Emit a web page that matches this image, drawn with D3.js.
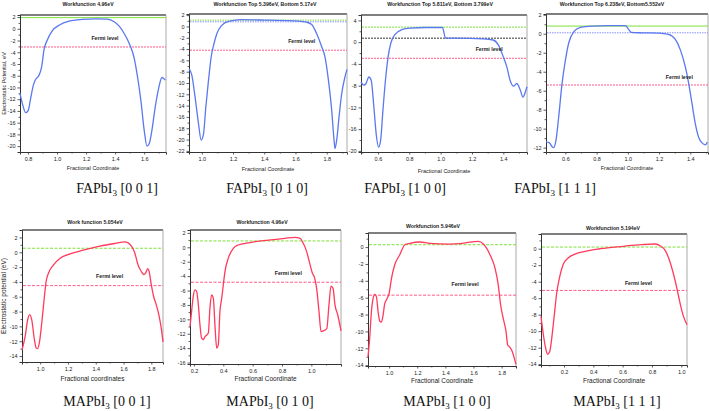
<!DOCTYPE html>
<html><head><meta charset="utf-8">
<script src="https://cdn.jsdelivr.net/npm/d3@7"></script>
<style>body{margin:0;background:#fff}svg{display:block}</style>
</head><body>
<script>
// ---------- DATA ----------
const fa001X = [0.745,0.761,0.784,0.802,0.818,0.837,0.853,0.876,0.894,0.910,0.933,0.968,1.014,1.083,1.175,1.267,1.347,1.393,1.428,1.462,1.497,1.531,1.554,1.577,1.600,1.619,1.634,1.653,1.676,1.699,1.722,1.745];
const fa001Y = [-11.0,-12.7,-14.3,-13.9,-11.9,-9.6,-8.6,-7.9,-6.5,-3.6,-1.9,-0.3,0.6,1.3,1.6,1.7,1.65,1.2,0.45,-0.8,-2.5,-5.0,-8.2,-12.2,-17.3,-20.0,-19.6,-17.3,-13.3,-10.2,-8.3,-8.75];
const fa001Lines = [1.9, -3.1];

const fa010X = [0.919,0.936,0.957,0.979,0.996,1.011,1.026,1.043,1.060,1.075,1.096,1.128,1.171,1.256,1.427,1.597,1.672,1.704,1.736,1.768,1.789,1.811,1.832,1.847,1.853,1.864,1.879,1.896,1.917,1.930];
const fa010Y = [-7.5,-8.6,-12.5,-17.2,-20.1,-19.0,-14.2,-9.5,-5.4,-3.4,-1.3,0.2,0.9,1.2,1.1,1.0,0.75,0.35,-1.3,-3.6,-5.4,-9.5,-14.8,-20.1,-21.6,-20.1,-16.0,-11.9,-8.9,-7.6];
const fa010Lines = [1.12, 0.82, -4.2];

const fa100X = [0.492,0.509,0.524,0.542,0.557,0.574,0.589,0.604,0.617,0.632,0.648,0.665,0.682,0.708,0.751,0.805,0.903,1.000,1.011,1.032,1.097,1.270,1.335,1.368,1.400,1.422,1.443,1.465,1.486,1.508,1.525,1.541,1.551];
const fa100Y = [-7.3,-7.9,-7.6,-6.4,-7.0,-11.9,-16.9,-19.3,-18.1,-12.5,-7.0,-2.7,-0.2,1.4,2.3,2.6,2.7,2.7,2.7,0.74,0.74,0.6,0.4,-0.5,-2.7,-4.5,-7.0,-8.1,-7.6,-8.8,-10.1,-9.1,-8.2];
const fa100Lines = [2.77, 0.74, -2.96];

const fa111X = [0.476,0.498,0.515,0.525,0.540,0.557,0.579,0.600,0.621,0.653,0.696,0.771,0.877,0.984,1.005,1.022,1.090,1.197,1.261,1.304,1.336,1.368,1.389,1.411,1.432,1.453,1.475,1.496,1.509];
const fa111Y = [-11.4,-11.5,-11.9,-12.0,-11.2,-8.8,-5.2,-2.8,-1.0,0.2,0.67,0.81,0.85,0.85,0.46,0.14,0.1,0.07,-0.07,-0.6,-1.7,-3.5,-5.2,-7.4,-9.5,-10.9,-11.5,-11.7,-11.4];
const fa111Lines = [0.81, 0.1, -5.4];

const ma001X = [0.869,0.893,0.909,0.924,0.940,0.957,0.971,0.981,0.995,1.012,1.029,1.043,1.060,1.096,1.143,1.215,1.310,1.430,1.549,1.609,1.633,1.657,1.681,1.704,1.728,1.745,1.759,1.774,1.783,1.800,1.817,1.836,1.855,1.872,1.884];
const ma001Y = [-13.2,-11.2,-9.2,-8.4,-9.2,-11.6,-12.9,-13.0,-12.1,-9.4,-6.2,-3.9,-2.8,-1.7,-0.8,-0.23,0.27,0.82,1.22,1.4,1.27,0.82,-0.09,-1.68,-2.6,-3.0,-2.8,-2.2,-2.5,-4.4,-6.0,-7.1,-8.5,-10.3,-12.1];
const ma001Lines = [0.54, -4.5];

const ma010X = [0.173,0.184,0.195,0.207,0.218,0.230,0.241,0.252,0.264,0.275,0.286,0.298,0.309,0.320,0.332,0.343,0.355,0.366,0.377,0.389,0.400,0.411,0.434,0.468,0.502,0.593,0.707,0.820,0.889,0.923,0.945,0.968,0.991,1.007,1.020,1.036,1.052,1.066,1.082,1.105,1.120,1.134,1.148,1.161,1.180,1.202];
const ma010Y = [-11.0,-8.9,-6.8,-5.9,-6.1,-8.0,-10.8,-12.6,-12.8,-12.4,-12.2,-11.9,-8.4,-6.6,-7.1,-10.8,-14.0,-13.5,-8.9,-7.1,-5.2,-3.4,-1.5,-0.14,0.32,0.69,1.0,1.25,1.38,1.25,0.55,-0.6,-2.4,-3.6,-4.1,-5.7,-8.9,-11.7,-11.6,-11.3,-8.0,-5.4,-5.7,-8.0,-9.4,-11.6];
const ma010Lines = [0.88, -4.85];

const ma100X = [0.850,0.862,0.874,0.886,0.898,0.910,0.922,0.934,0.945,0.957,0.969,0.986,1.000,1.017,1.040,1.076,1.112,1.147,1.218,1.290,1.432,1.503,1.575,1.634,1.670,1.717,1.753,1.776,1.793,1.812,1.831,1.843,1.859,1.876,1.890,1.902];
const ma100Y = [-13.0,-10.8,-7.7,-6.1,-5.6,-5.9,-7.7,-8.8,-8.9,-8.1,-6.7,-6.1,-5.5,-3.7,-2.1,-0.9,0.28,0.44,0.6,0.44,0.36,0.4,0.6,0.67,0.36,-0.9,-2.5,-4.5,-6.9,-8.5,-10.0,-11.6,-11.9,-12.4,-13.2,-13.9];
const ma100Lines = [0.28, -5.7];

const ma111X = [0.043,0.059,0.075,0.088,0.102,0.116,0.134,0.150,0.173,0.195,0.230,0.275,0.344,0.435,0.526,0.617,0.731,0.822,0.856,0.891,0.918,0.948,0.970,0.989,1.005,1.023,1.039];
const ma111Y = [-8.2,-10.4,-12.1,-12.8,-12.5,-10.9,-8.0,-5.4,-3.2,-1.9,-1.1,-0.65,-0.32,-0.04,0.16,0.32,0.49,0.57,0.36,-0.24,-1.34,-3.16,-4.8,-6.4,-7.6,-8.6,-9.2];
const ma111Lines = [0.2, -5.06];

const titles = ["Workfunction 4.96eV","Workfunction Top 5.396eV, Bottom 5.17eV","Workfunction Top 5.811eV, Bottom 3.799eV","Workfunction Top 6.238eV, Bottom5.552eV",
                "Work function 5.054eV","Workfunction 4.96eV","Workfunction 5.946eV","Workfunction 5.194eV"];
const captionBase = ["FAPbI","FAPbI","FAPbI","FAPbI","MAPbI","MAPbI","MAPbI","MAPbI"];
const captionDir = ["[0 0 1]","[0 1 0]","[1 0 0]","[1 1 1]","[0 0 1]","[0 1 0]","[1 0 0]","[1 1 1]"];
const xLabels = ["Fractional Coordinate","Fractional Coordinate","Fractional Coordinate","Fractional Coordinate","Fractional coordinates","Fractional  Coordinate","Fractional Coordinate","Fractional Coordinate"];
const yLabels = ["Electrostatic Potential, eV","","","","Electrostatic potential (eV)","","",""];
const xTickVals = [[0.8,1.0,1.2,1.4,1.6],[1.0,1.2,1.4,1.6,1.8],[0.6,0.8,1.0,1.2,1.4],[0.6,0.8,1.0,1.2,1.4],[1.0,1.2,1.4,1.6,1.8],[0.2,0.4,0.6,0.8,1.0],[1.0,1.2,1.4,1.6,1.8],[0.2,0.4,0.6,0.8,1.0]];
const yTickVals = [d3.range(-20,3,2), d3.range(-22,3,2), d3.range(-20,5,4), d3.range(-12,3,2), d3.range(-14,3,2), d3.range(-16,3,2), d3.range(-14,1,2), d3.range(-14,1,2)];

// ---------- LAYOUT ----------
const BLUE="#5a78f0", RED="#ff3a5c", GREEN="#7fe03a", PINK="#ff5a88";
const panels = [
 {x:fa001X,y:fa001Y,lines:fa001Lines,styles:[{c:GREEN,d:null},{c:PINK,d:"2,1"}],color:BLUE,
  L:20,T:15,R:166,B:152,xd:[0.745,1.75],yd:[-21,2.35],fermi:[1.33,-1.9],titleXY:[88,6],xlabY:170,capXY:[117,193]},
 {x:fa010X,y:fa010Y,lines:fa010Lines,styles:[{c:GREEN,d:"1.5,1"},{c:"#8890ff",d:"1.5,1"},{c:PINK,d:"2,1"}],color:BLUE,
  L:189,T:14,R:347,B:152,xd:[0.918,1.93],yd:[-22.2,2.2],fermi:[1.64,-3.0],titleXY:[265,6],xlabY:171,capXY:[267,193]},
 {x:fa100X,y:fa100Y,lines:fa100Lines,styles:[{c:GREEN,d:"2,1"},{c:"#333",d:"2,1"},{c:PINK,d:"2,1"}],color:BLUE,
  L:361,T:15,R:527,B:152,xd:[0.492,1.551],yd:[-20.2,5.0],fermi:[1.31,-1.6],titleXY:[440,6],xlabY:173,capXY:[405,193]},
 {x:fa111X,y:fa111Y,lines:fa111Lines,styles:[{c:GREEN,d:null},{c:"#8890ff",d:"1.5,1"},{c:PINK,d:"2,1"}],color:BLUE,
  L:546,T:14,R:708,B:152,xd:[0.476,1.513],yd:[-12.46,2.08],fermi:[1.33,-4.75],titleXY:[612,6],xlabY:170,capXY:[555,193]},
 {x:ma001X,y:ma001Y,lines:ma001Lines,styles:[{c:GREEN,d:"3,1.5"},{c:PINK,d:"3,1.5"}],color:RED,
  L:22,T:230,R:163,B:362,xd:[0.869,1.884],yd:[-14.8,3.0],fermi:[1.5,-3.5],titleXY:[95,224],xlabY:381,capXY:[107,406]},
 {x:ma010X,y:ma010Y,lines:ma010Lines,styles:[{c:GREEN,d:"3,1.5"},{c:PINK,d:"3,1.5"}],color:RED,
  L:190,T:230,R:341,B:364,xd:[0.173,1.202],yd:[-16.2,2.4],fermi:[0.843,-3.9],titleXY:[262,224],xlabY:381,capXY:[270,406]},
 {x:ma100X,y:ma100Y,lines:ma100Lines,styles:[{c:GREEN,d:"3,1.5"},{c:PINK,d:"3,1.5"}],color:RED,
  L:368,T:233,R:516,B:366,xd:[0.85,1.902],yd:[-14.1,1.67],fermi:[1.54,-4.6],titleXY:[433,228],xlabY:383,capXY:[447,406]},
 {x:ma111X,y:ma111Y,lines:ma111Lines,styles:[{c:GREEN,d:"3,1.5"},{c:PINK,d:"3,1.5"}],color:RED,
  L:541,T:234,R:687,B:365,xd:[0.043,1.039],yd:[-14.1,1.78],fermi:[0.708,-4.37],titleXY:[613,230],xlabY:383,capXY:[617,406]}
];

const svg = d3.select("body").append("svg").attr("width",709).attr("height",411)
  .style("font-family","'Liberation Sans', Arial, sans-serif");

panels.forEach((p,i)=>{
  const xs = d3.scaleLinear().domain(p.xd).range([p.L,p.R]);
  const ys = d3.scaleLinear().domain(p.yd).range([p.B,p.T]);
  const g = svg.append("g");
  // frame
  g.append("line").attr("x1",p.L).attr("x2",p.R).attr("y1",p.T).attr("y2",p.T).attr("stroke","#555").attr("stroke-width",1.5);
  g.append("line").attr("x1",p.R).attr("x2",p.R).attr("y1",p.T).attr("y2",p.B).attr("stroke","#aaa").attr("stroke-width",1);
  // axes
  const ya = g.append("g").attr("transform",`translate(${p.L},0)`)
    .call(d3.axisLeft(ys).tickValues(yTickVals[i]).tickSize(2.5).tickPadding(2).tickFormat(d=>String(d)));
  const step = yTickVals[i][1]-yTickVals[i][0];
  const yMinor = yTickVals[i].map(v=>v+step/2).filter(v=>v<p.yd[1]);
  g.append("g").attr("transform",`translate(${p.L},0)`)
    .call(d3.axisLeft(ys).tickValues(yMinor).tickSize(1.5).tickFormat(""))
    .call(s=>s.select(".domain").remove());
  const xa = g.append("g").attr("transform",`translate(0,${p.B})`)
    .call(d3.axisBottom(xs).tickValues(xTickVals[i]).tickSize(2.5).tickPadding(3).tickFormat(d3.format(".1f")));
  const xMinor = xTickVals[i].map(v=>v+0.1).concat([xTickVals[i][0]-0.1]).filter(v=>v>p.xd[0]&&v<p.xd[1]);
  g.append("g").attr("transform",`translate(0,${p.B})`)
    .call(d3.axisBottom(xs).tickValues(xMinor).tickSize(1.5).tickFormat(""))
    .call(s=>s.select(".domain").remove());
  g.selectAll(".domain").attr("stroke","#333").attr("stroke-width",1);
  g.selectAll(".tick line").attr("stroke","#333").attr("stroke-width",0.8);
  g.selectAll(".tick text").attr("font-size",5.5).attr("fill","#222").attr("font-family","'Liberation Sans', Arial, sans-serif");

  // horizontal reference lines
  p.lines.forEach((v,k)=>{
    const st = p.styles[k];
    g.append("line").attr("x1",p.L+1).attr("x2",p.R).attr("y1",ys(v)).attr("y2",ys(v))
      .attr("stroke",st.c).attr("stroke-width",1).attr("stroke-dasharray",st.d);
  });
  // curve
  const pts = p.x.map((x,j)=>[x,p.y[j]]);
  g.append("path").datum(pts)
    .attr("d",d3.line().x(d=>xs(d[0])).y(d=>ys(d[1])).curve(d3.curveMonotoneX))
    .attr("fill","none").attr("stroke",p.color).attr("stroke-width",1.3);
  // fermi label
  g.append("text").attr("x",xs(p.fermi[0])).attr("y",ys(p.fermi[1])).attr("text-anchor","middle")
    .attr("font-size",5.2).attr("font-weight","bold").attr("fill","#222").text("Fermi level");
  // title
  g.append("text").attr("x",p.titleXY[0]).attr("y",p.titleXY[1]).attr("text-anchor","middle")
    .attr("font-size",5.2).attr("font-weight","bold").attr("fill","#222").text(titles[i]);
  // x label
  g.append("text").attr("x",(p.L+p.R)/2).attr("y",p.xlabY).attr("text-anchor","middle")
    .attr("font-size",i<4?5.5:6.5).attr("fill","#222").text(xLabels[i]);
  // y label
  if(yLabels[i]) g.append("text").attr("transform",`translate(6,${(p.T+p.B)/2}) rotate(-90)`)
    .attr("text-anchor","middle").attr("font-size",i<4?5.5:6.5).attr("fill","#222").text(yLabels[i]);
  // caption
  const cap = svg.append("text").attr("x",p.capXY[0]).attr("y",p.capXY[1]).attr("text-anchor","middle")
    .attr("font-family","'Liberation Serif','Times New Roman',serif").attr("font-size",14).attr("fill","#111");
  cap.append("tspan").text(captionBase[i]);
  cap.append("tspan").attr("font-size",9).attr("dy",2.5).text("3");
  cap.append("tspan").attr("dy",-2.5).text(" " + captionDir[i]);
});
</script>
</body></html>
